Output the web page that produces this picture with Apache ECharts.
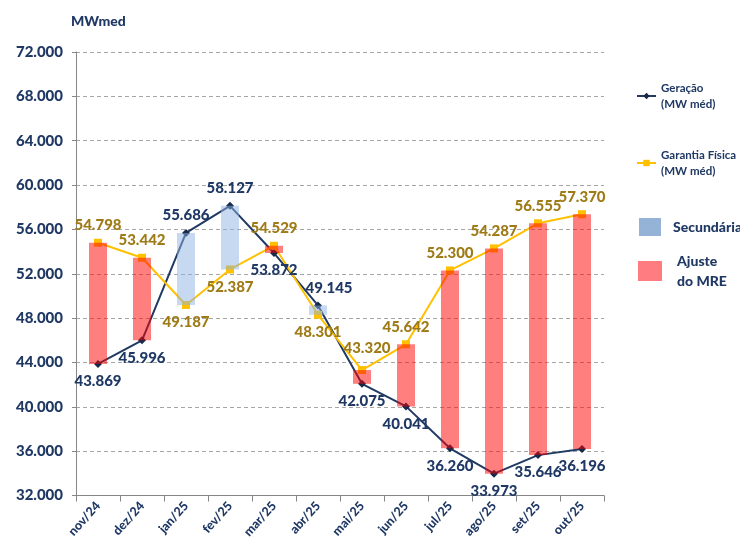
<!DOCTYPE html>
<html>
<head>
<meta charset="utf-8">
<script src="https://cdn.jsdelivr.net/npm/echarts@6/dist/echarts.min.js"></script>
<style>
html, body { margin: 0; padding: 0; background: #fff; }
#chart { width: 740px; height: 541px; }
</style>
</head>
<body>
<div id="chart"></div>
<script>
var months = ['nov/24', 'dez/24', 'jan/25', 'fev/25', 'mar/25', 'abr/25', 'mai/25', 'jun/25', 'jul/25', 'ago/25', 'set/25', 'out/25'];
var geracao = [43869, 45996, 55686, 58127, 53872, 49145, 42075, 40041, 36260, 33973, 35646, 36196];
var garantia = [54798, 53442, 49187, 52387, 54529, 48301, 43320, 45642, 52300, 54287, 56555, 57370];
var yTicks = [32000, 36000, 40000, 44000, 48000, 52000, 56000, 60000, 64000, 68000, 72000];

var navy = '#1F3864';
var gold = '#9E7B16';
var font = 'Lato';

function fmt(v) {
	return String(v).replace(/\B(?=(\d{3})+(?!\d))/g, '.');
}

// where each data label sits (above / below the point)
var gPos = ['bottom', 'bottom', 'top', 'top', 'bottom', 'top', 'bottom', 'bottom', 'bottom', 'bottom', 'bottom', 'bottom'];
var gfPos = ['top', 'top', 'bottom', 'bottom', 'top', 'bottom', 'top', 'top', 'top', 'top', 'top', 'top'];

// floating bars: transparent base + difference
var base = [], ajuste = [], secundaria = [];
for (var i = 0; i < months.length; i++) {
	base.push(Math.min(geracao[i], garantia[i]));
	ajuste.push(Math.max(garantia[i] - geracao[i], 0));
	secundaria.push(Math.max(geracao[i] - garantia[i], 0));
}

var chart = echarts.init(document.getElementById('chart'));

var labelStyle = {
	show: true,
	fontFamily: font,
	fontWeight: 900,
	fontSize: 15,
	distance: 6,
	formatter: function (p) { return fmt(p.value); }
};

var option = {
	animation: false,
	textStyle: { fontFamily: font },
	title: {
		text: 'MWmed',
		left: 66,
		top: 9,
		textStyle: { fontFamily: font, fontSize: 14, fontWeight: 900, color: navy }
	},
	grid: { left: 76, right: 136, top: 52, bottom: 45 },
	legend: [
		{
			data: ['Geração'], left: 636, top: 72, padding: 0, itemWidth: 19, itemHeight: 8,
			formatter: function () { return 'Geração\n(MW méd)'; },
			textStyle: { fontFamily: font, fontSize: 11.5, fontWeight: 'bold', color: navy, lineHeight: 16, padding: [16, 0, 0, 0] }
		},
		{
			data: ['Garantia Física'], left: 636, top: 139, padding: 0, itemWidth: 19, itemHeight: 8,
			formatter: function () { return 'Garantia Física\n(MW méd)'; },
			textStyle: { fontFamily: font, fontSize: 11.5, fontWeight: 'bold', color: navy, lineHeight: 16, padding: [16, 0, 0, 0] }
		},
		{
			data: [{ name: 'Secundária', icon: 'rect', itemStyle: { color: '#95B3D7' } }],
			left: 639, top: 218, padding: 0, itemWidth: 22, itemHeight: 18,
			textStyle: { fontFamily: font, fontSize: 14, fontWeight: 900, color: navy, padding: [0, 0, 0, 7] }
		},
		{
			data: [{ name: 'Ajuste do MRE', icon: 'rect', itemStyle: { color: '#FF7C80' } }],
			left: 638, top: 241, padding: 0, itemWidth: 24, itemHeight: 20,
			formatter: function () { return 'Ajuste\ndo MRE'; },
			textStyle: { fontFamily: font, fontSize: 14, fontWeight: 900, color: navy, lineHeight: 20, padding: [20, 0, 0, 10] }
		}
	],
	xAxis: {
		type: 'category',
		data: months,
		boundaryGap: true,
		axisLine: { lineStyle: { color: '#868686', width: 1 } },
		axisTick: { show: true, length: 6, lineStyle: { color: '#868686' } },
		axisLabel: { interval: 0, rotate: 48, margin: 8, fontFamily: font, fontSize: 12.5, fontWeight: 900, color: navy }
	},
	yAxis: {
		type: 'value',
		min: yTicks[0],
		max: yTicks[yTicks.length - 1],
		interval: yTicks[1] - yTicks[0],
		axisLine: { show: true, lineStyle: { color: '#868686', width: 1 } },
		axisTick: { show: true, length: 4, lineStyle: { color: '#868686' } },
		axisLabel: { margin: 13, fontFamily: font, fontSize: 15, fontWeight: 900, color: navy, formatter: fmt },
		splitLine: { show: true, lineStyle: { color: '#A6A6A6', type: [4, 3], width: 1 } }
	},
	series: [
		{
			name: 'base', type: 'bar', stack: 'mre', data: base, barWidth: 18, z: 5, silent: true,
			itemStyle: { color: 'transparent' }
		},
		{
			name: 'Ajuste do MRE', type: 'bar', stack: 'mre', data: ajuste, barWidth: 18, z: 5,
			itemStyle: { color: 'rgba(255,0,0,0.5)' }
		},
		{
			name: 'Secundária', type: 'bar', stack: 'mre', data: secundaria, barWidth: 18, z: 5,
			itemStyle: { color: 'rgba(141,180,226,0.5)' }
		},
		{
			name: 'Geração', type: 'line', z: 2,
			data: geracao.map(function (v, i) {
				var lb = { position: gPos[i] };
				if (i === 5) lb.offset = [11, 0];
				return { value: v, label: lb };
			}),
			symbol: 'diamond', symbolSize: 8,
			lineStyle: { color: '#203A63', width: 2 },
			itemStyle: { color: '#16294A' },
			label: Object.assign({}, labelStyle, { color: navy })
		},
		{
			name: 'Garantia Física', type: 'line', z: 2,
			data: garantia.map(function (v, i) {
				var lb = { position: gfPos[i] };
				if (i === 6) lb.offset = [5, -4];
				return { value: v, label: lb };
			}),
			symbol: 'rect', symbolSize: 8,
			lineStyle: { color: '#FFC000', width: 2 },
			itemStyle: { color: '#FFC000' },
			label: Object.assign({}, labelStyle, { color: gold })
		}
	]
};

chart.setOption(option);
</script>
</body>
</html>
